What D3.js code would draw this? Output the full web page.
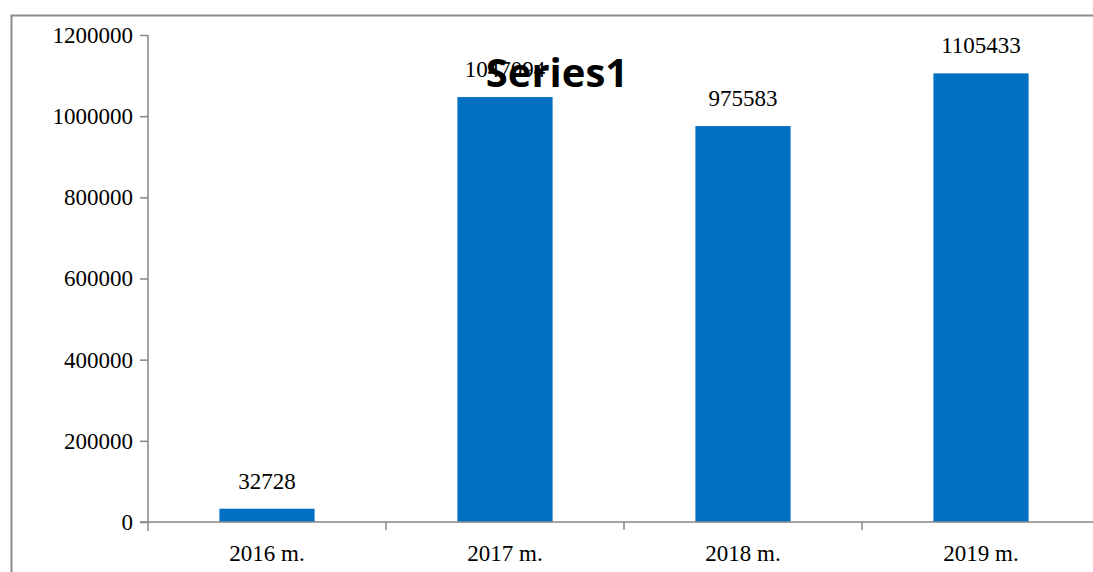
<!DOCTYPE html>
<html><head><meta charset="utf-8">
<script src="https://cdn.jsdelivr.net/npm/d3@7"></script>
<style>body{margin:0;background:#fff}svg{display:block}</style>
</head><body>
<svg id="c" width="1093" height="572"></svg>
<script>
const categories = ["2016 m.", "2017 m.", "2018 m.", "2019 m."];
const values = [32728, 1047094, 975583, 1105433];
const yTicks = [0, 200000, 400000, 600000, 800000, 1000000, 1200000];
const title = "Series1";

const svg = d3.select("#c");
const serif = "'Liberation Serif','Times New Roman',serif";
// outer chart border
svg.append("rect").attr("x", 11.5).attr("y", 15.5).attr("width", 1100).attr("height", 600)
  .attr("fill", "none").attr("stroke", "#8c8c8c").attr("stroke-width", 2);

const x0 = 148, x1 = 1100, yTop = 35, yBot = 522;
const x = d3.scaleBand().domain(categories).range([x0, x1]).paddingInner(0.6).paddingOuter(0.3);
const y = d3.scaleLinear().domain([0, 1200000]).range([yBot, yTop]);

// bars
svg.selectAll("rect.bar").data(values).enter().append("rect").attr("class", "bar")
  .attr("x", (d, i) => x(categories[i])).attr("width", x.bandwidth())
  .attr("y", d => y(d)).attr("height", d => y(0) - y(d)).attr("fill", "#0070C0");

// y axis
const yAxis = d3.axisLeft(y).tickValues(yTicks).tickSize(8).tickPadding(7).tickFormat(d3.format("d"));
const gy = svg.append("g").attr("transform", `translate(${x0},0)`).call(yAxis);
gy.select(".domain").remove();
svg.append("line").attr("x1", x0).attr("x2", x0).attr("y1", yTop).attr("y2", yBot + 9)
  .attr("stroke", "#868686").attr("stroke-width", 1.5);
gy.selectAll(".tick line").attr("stroke", "#868686").attr("stroke-width", 1.5);
gy.selectAll(".tick text").attr("font-family", serif)
  .attr("font-size", 23).attr("fill", "#000");

// x axis
const xEdge = d3.scaleLinear().domain([0, categories.length]).range([x0, x1]);
svg.append("line").attr("x1", x0 - 8).attr("x2", x1).attr("y1", yBot).attr("y2", yBot)
  .attr("stroke", "#868686").attr("stroke-width", 1.5);
svg.selectAll("line.xt").data(d3.range(1, categories.length)).enter().append("line")
  .attr("x1", d => xEdge(d)).attr("x2", d => xEdge(d)).attr("y1", yBot).attr("y2", yBot + 8)
  .attr("stroke", "#868686").attr("stroke-width", 1.5);
svg.selectAll("text.xl").data(categories).enter().append("text")
  .attr("x", d => x(d) + x.bandwidth() / 2).attr("y", 561).attr("text-anchor", "middle")
  .attr("font-family", serif).attr("font-size", 23)
  .attr("fill", "#000").text(d => d);

// data labels
svg.selectAll("text.vl").data(values).enter().append("text")
  .attr("x", (d, i) => x(categories[i]) + x.bandwidth() / 2).attr("y", d => y(d) - 20)
  .attr("text-anchor", "middle").attr("font-family", serif)
  .attr("font-size", 23).attr("fill", "#000").text(d => d);

// title
svg.append("text").attr("x", 557).attr("y", 87).attr("text-anchor", "middle")
  .attr("font-family", "'Open Sans','DejaVu Sans',sans-serif").attr("font-weight", "bold")
  .attr("font-size", 40).attr("fill", "#000").text(title);
</script>
</body></html>
